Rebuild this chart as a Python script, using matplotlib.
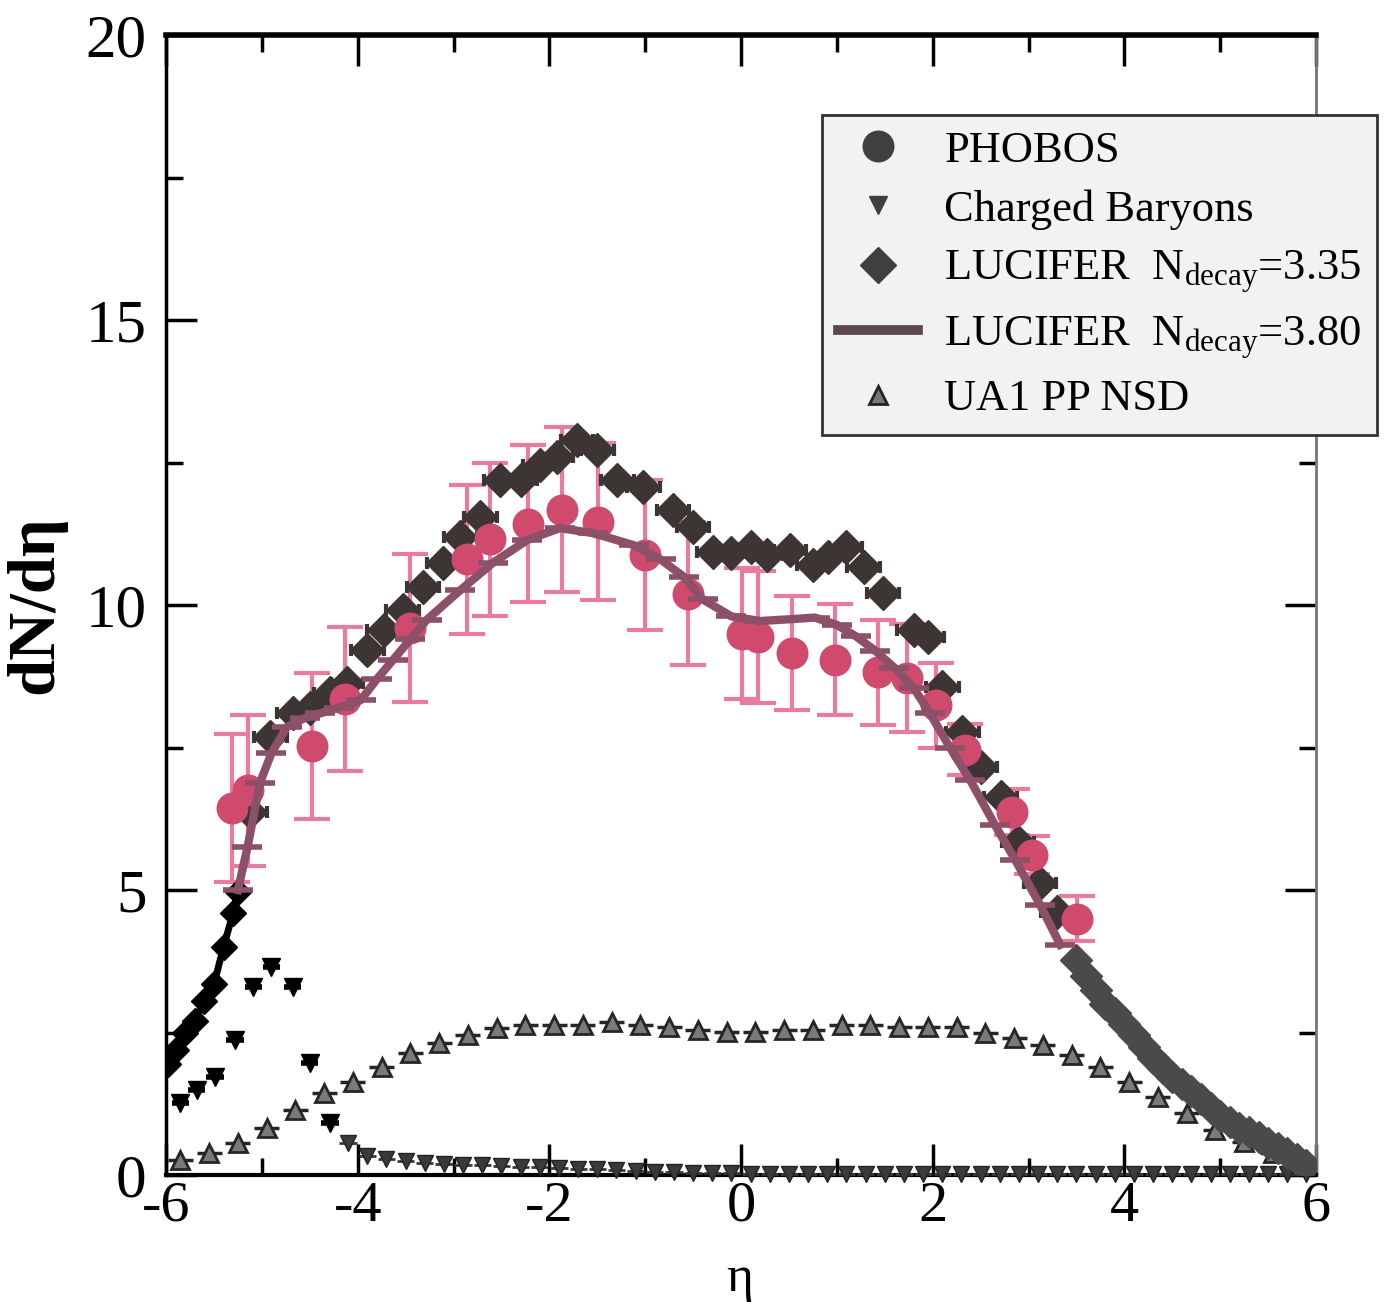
import matplotlib
matplotlib.use('Agg')
import matplotlib.pyplot as plt
from matplotlib.lines import Line2D

plt.rcParams['font.family'] = ['Liberation Serif', 'DejaVu Serif']
plt.rcParams['mathtext.fontset'] = 'custom'
plt.rcParams['mathtext.rm'] = 'Liberation Serif'
plt.rcParams['mathtext.it'] = 'Liberation Serif:italic'
plt.rcParams['axes.unicode_minus'] = False

# PHOBOS data (eta, dN/deta, error)
phobos_eta = [-5.31, -5.14, -4.48, -4.13, -3.45, -2.86, -2.62, -2.22, -1.87, -1.49, -1.00,
              -0.55, 0.01, 0.18, 0.53, 0.98, 1.43, 1.73, 2.03, 2.34, 2.83, 3.04, 3.51]
phobos_val = [6.44, 6.75, 7.53, 8.35, 9.60, 10.80, 11.15, 11.43, 11.67, 11.46, 10.88,
              10.20, 9.50, 9.44, 9.16, 9.04, 8.82, 8.72, 8.24, 7.46, 6.37, 5.61, 4.50]
phobos_err = [1.30, 1.32, 1.28, 1.27, 1.30, 1.30, 1.35, 1.38, 1.45, 1.38, 1.32,
              1.25, 1.15, 1.15, 1.00, 0.97, 0.92, 0.95, 0.74, 0.45, 0.40, 0.33, 0.40]

# LUCIFER N_decay = 3.35 (diamonds)
luc335_eta = [-5.12, -4.91, -4.67, -4.50, -4.29, -4.11, -3.90, -3.73, -3.53, -3.32, -3.11,
              -2.93, -2.72, -2.51, -2.30, -2.10, -1.92, -1.71, -1.50, -1.29, -1.02, -0.71,
              -0.50, -0.29, -0.11, 0.10, 0.27, 0.51, 0.75, 0.91, 1.09, 1.28, 1.48, 1.80,
              1.95, 2.10, 2.31, 2.50, 2.71, 2.89, 3.12, 3.30]
luc335_val = [6.37, 7.68, 8.10, 8.20, 8.45, 8.63, 9.21, 9.56, 9.91, 10.32, 10.74,
              11.19, 11.54, 12.19, 12.19, 12.46, 12.60, 12.90, 12.72, 12.19, 12.07, 11.67,
              11.37, 10.93, 10.91, 11.02, 10.88, 10.96, 10.70, 10.85, 11.02, 10.67, 10.21, 9.56,
              9.44, 8.56, 7.77, 7.16, 6.63, 5.84, 5.12, 4.61]

# continuation of the 3.35 curve (black at low eta, grey at high eta)
luc335_lo_eta = [-5.98, -5.90, -5.80, -5.70, -5.60, -5.50, -5.40, -5.30, -5.25]
luc335_lo_val = [1.95, 2.20, 2.50, 2.70, 3.05, 3.35, 4.00, 4.60, 4.96]
luc335_hi_eta = [3.49, 3.60, 3.70, 3.80, 3.90, 4.00, 4.10, 4.20, 4.30, 4.40, 4.50, 4.60,
                 4.70, 4.80, 4.90, 5.00, 5.10, 5.20, 5.30, 5.40, 5.50, 5.60, 5.70, 5.80, 5.90]
luc335_hi_val = [3.77, 3.50, 3.25, 3.00, 2.85, 2.65, 2.45, 2.25, 2.05, 1.88, 1.72, 1.60,
                 1.47, 1.33, 1.18, 1.03, 0.93, 0.83, 0.75, 0.66, 0.57, 0.48, 0.38, 0.28, 0.18]

# LUCIFER N_decay = 3.80 (line)
luc380_eta = [-5.25, -5.15, -5.02, -4.90, -4.74, -4.55, -4.39, -4.20, -3.97, -3.80, -3.63,
              -3.45, -3.28, -2.93, -2.59, -2.23, -1.89, -1.54, -1.12, -0.84, -0.60, -0.40,
              -0.10, 0.20, 0.50, 0.77, 1.00, 1.20, 1.40, 1.60, 1.80, 1.97, 2.18, 2.39,
              2.65, 2.86, 3.12, 3.33]
luc380_val = [5.00, 5.75, 6.88, 7.40, 7.86, 8.02, 8.10, 8.20, 8.33, 8.70, 9.04,
              9.40, 9.74, 10.26, 10.74, 11.14, 11.35, 11.26, 11.05, 10.80, 10.50, 10.10,
              9.80, 9.72, 9.75, 9.78, 9.65, 9.45, 9.20, 8.90, 8.55, 8.10, 7.50, 6.93,
              6.14, 5.53, 4.74, 4.04]

# UA1 pp NSD (up triangles)
ua1_eta = [-5.85, -5.55, -5.25, -4.95, -4.65, -4.35, -4.05, -3.75, -3.45, -3.15, -2.85,
           -2.55, -2.25, -1.95, -1.65, -1.35, -1.05, -0.75, -0.45, -0.15, 0.15, 0.45,
           0.75, 1.05, 1.35, 1.65, 1.95, 2.25, 2.55, 2.85, 3.15, 3.45, 3.75, 4.05,
           4.35, 4.65, 4.95, 5.25, 5.55, 5.85]
ua1_val = [0.26, 0.39, 0.56, 0.82, 1.14, 1.44, 1.63, 1.89, 2.14, 2.32, 2.46,
           2.58, 2.63, 2.63, 2.63, 2.68, 2.63, 2.60, 2.54, 2.51, 2.51, 2.54,
           2.54, 2.63, 2.63, 2.60, 2.60, 2.60, 2.49, 2.40, 2.28, 2.10, 1.90, 1.63,
           1.37, 1.09, 0.79, 0.58, 0.39, 0.21]

# Charged baryons (down triangles)
bar_lo_eta = [-5.85, -5.68, -5.49, -5.28, -5.09, -4.90, -4.68, -4.50, -4.29]
bar_lo_val = [1.26, 1.49, 1.72, 2.37, 3.30, 3.65, 3.30, 1.96, 0.91]
bar_eta = [-4.1, -3.9, -3.7, -3.5, -3.3, -3.1, -2.9, -2.7, -2.5, -2.3, -2.1, -1.9, -1.7,
           -1.5, -1.3, -1.1, -0.9, -0.7, -0.5, -0.3, -0.1, 0.1, 0.3, 0.5, 0.7, 0.9, 1.1,
           1.3, 1.5, 1.7, 1.9, 2.1, 2.3, 2.5, 2.7, 2.9, 3.1, 3.3, 3.5, 3.7, 3.9, 4.1,
           4.3, 4.5, 4.7, 4.9, 5.1, 5.3, 5.5, 5.7, 5.9]
bar_val = [0.56, 0.33, 0.28, 0.25, 0.22, 0.20, 0.18, 0.17, 0.16, 0.15, 0.14, 0.12, 0.11,
           0.10, 0.08, 0.07, 0.06, 0.05, 0.04, 0.03, 0.03, 0.02, 0.02, 0.02, 0.02, 0.02, 0.02,
           0.02, 0.02, 0.02, 0.02, 0.02, 0.02, 0.02, 0.02, 0.02, 0.02, 0.02, 0.02, 0.02, 0.02,
           0.02, 0.02, 0.02, 0.02, 0.02, 0.02, 0.02, 0.02, 0.02, 0.02]

fig = plt.figure(figsize=(13.94, 13.02), dpi=100)
ax = fig.add_axes([0.1191, 0.0975, 0.825, 0.8756])

# baryons along the bottom
ax.errorbar(bar_eta, bar_val, xerr=0.09, fmt='v', ms=11, color='#3a3a3a',
            mec='#222222', elinewidth=2, capsize=0, clip_on=False, zorder=3)
ax.errorbar(bar_lo_eta, bar_lo_val, xerr=0.09, fmt='v', ms=13, color='black',
            elinewidth=4, capsize=0, zorder=4)

# UA1
ax.errorbar(ua1_eta, ua1_val, xerr=0.13, fmt='^', ms=13, mfc='#7a7a7a', mec='#262626',
            mew=2, ecolor='#262626', elinewidth=2.5, capsize=0, zorder=4)

# PHOBOS error bars
ax.errorbar(phobos_eta, phobos_val, yerr=phobos_err, fmt='none', ecolor='#e97b9f',
            elinewidth=3, capsize=13, capthick=3, zorder=2)

# LUCIFER 3.35
ax.errorbar(luc335_eta, luc335_val, xerr=0.17, fmt='D', ms=17, color='#3d3434',
            ecolor='#3d3434', elinewidth=3, capsize=4, capthick=3, zorder=5)
ax.plot(luc335_lo_eta, luc335_lo_val, '-D', color='black', lw=5, ms=13, zorder=5)
ax.plot(luc335_hi_eta, luc335_hi_val, 'D', color='#4a4a4a', ms=16, zorder=5)

ax.plot(phobos_eta, phobos_val, 'o', ms=22, color='#cf4a6c', zorder=6)

# LUCIFER 3.80
ax.plot(luc380_eta, luc380_val, '-', color='#8c5068', lw=6, zorder=7,
        marker='_', ms=22, mew=4)

ax.set_xlim(-6, 6)
ax.set_ylim(0, 20)
ax.set_xticks([-6, -4, -2, 0, 2, 4, 6])
ax.set_xticks([-5, -3, -1, 1, 3, 5], minor=True)
ax.set_yticks([0, 5, 10, 15, 20])
ax.set_yticks([2.5, 7.5, 12.5, 17.5], minor=True)
ax.tick_params(which='both', direction='in', top=True, right=True, width=2.5,
               labelsize=44, colors='black')
ax.tick_params(which='major', length=22)
ax.tick_params(which='minor', length=12)
ax.tick_params(axis='x', pad=4, labelsize=42)
ax.tick_params(axis='y', pad=14)

ax.spines['top'].set_linewidth(4)
ax.spines['left'].set_linewidth(2.5)
ax.spines['bottom'].set_linewidth(3)
ax.spines['right'].set_linewidth(2)
ax.spines['right'].set_color('#777777')

# eta label sits at the very bottom of the figure
fig.text(740 / 1394, 0.0, 'η', fontsize=37, ha='center', va='bottom')
ax.set_ylabel('dN/dη', fontsize=48, fontweight='bold', labelpad=14)

handles = [
    Line2D([], [], ls='none', marker='o', ms=22, color='#3f3f3f'),
    Line2D([], [], ls='none', marker='v', ms=13, color='#3f3f3f'),
    Line2D([], [], ls='none', marker='D', ms=18, color='#3f3f3f'),
    Line2D([], [], ls='-', lw=7, color='#5e4850'),
    Line2D([], [], ls='none', marker='^', ms=13, mfc='#777777', mec='#222222', mew=2),
]
labels = ['PHOBOS', 'Charged Baryons',
          r'LUCIFER  N$_{\mathrm{decay}}$=3.35',
          r'LUCIFER  N$_{\mathrm{decay}}$=3.80',
          'UA1 PP NSD']
leg = ax.legend(handles, labels, loc='upper left', bbox_to_anchor=(822 / 1394, 1 - 115 / 1302),
                bbox_transform=fig.transFigure, fontsize=32, frameon=True, fancybox=False,
                facecolor='#f2f2f2', edgecolor='#333333', framealpha=1, borderaxespad=0,
                handlelength=1.8, handletextpad=0.6, labelspacing=0.42, borderpad=0.35)
leg.get_frame().set_linewidth(2)
leg.set_zorder(10)

fig.savefig('out.png', dpi=100)
